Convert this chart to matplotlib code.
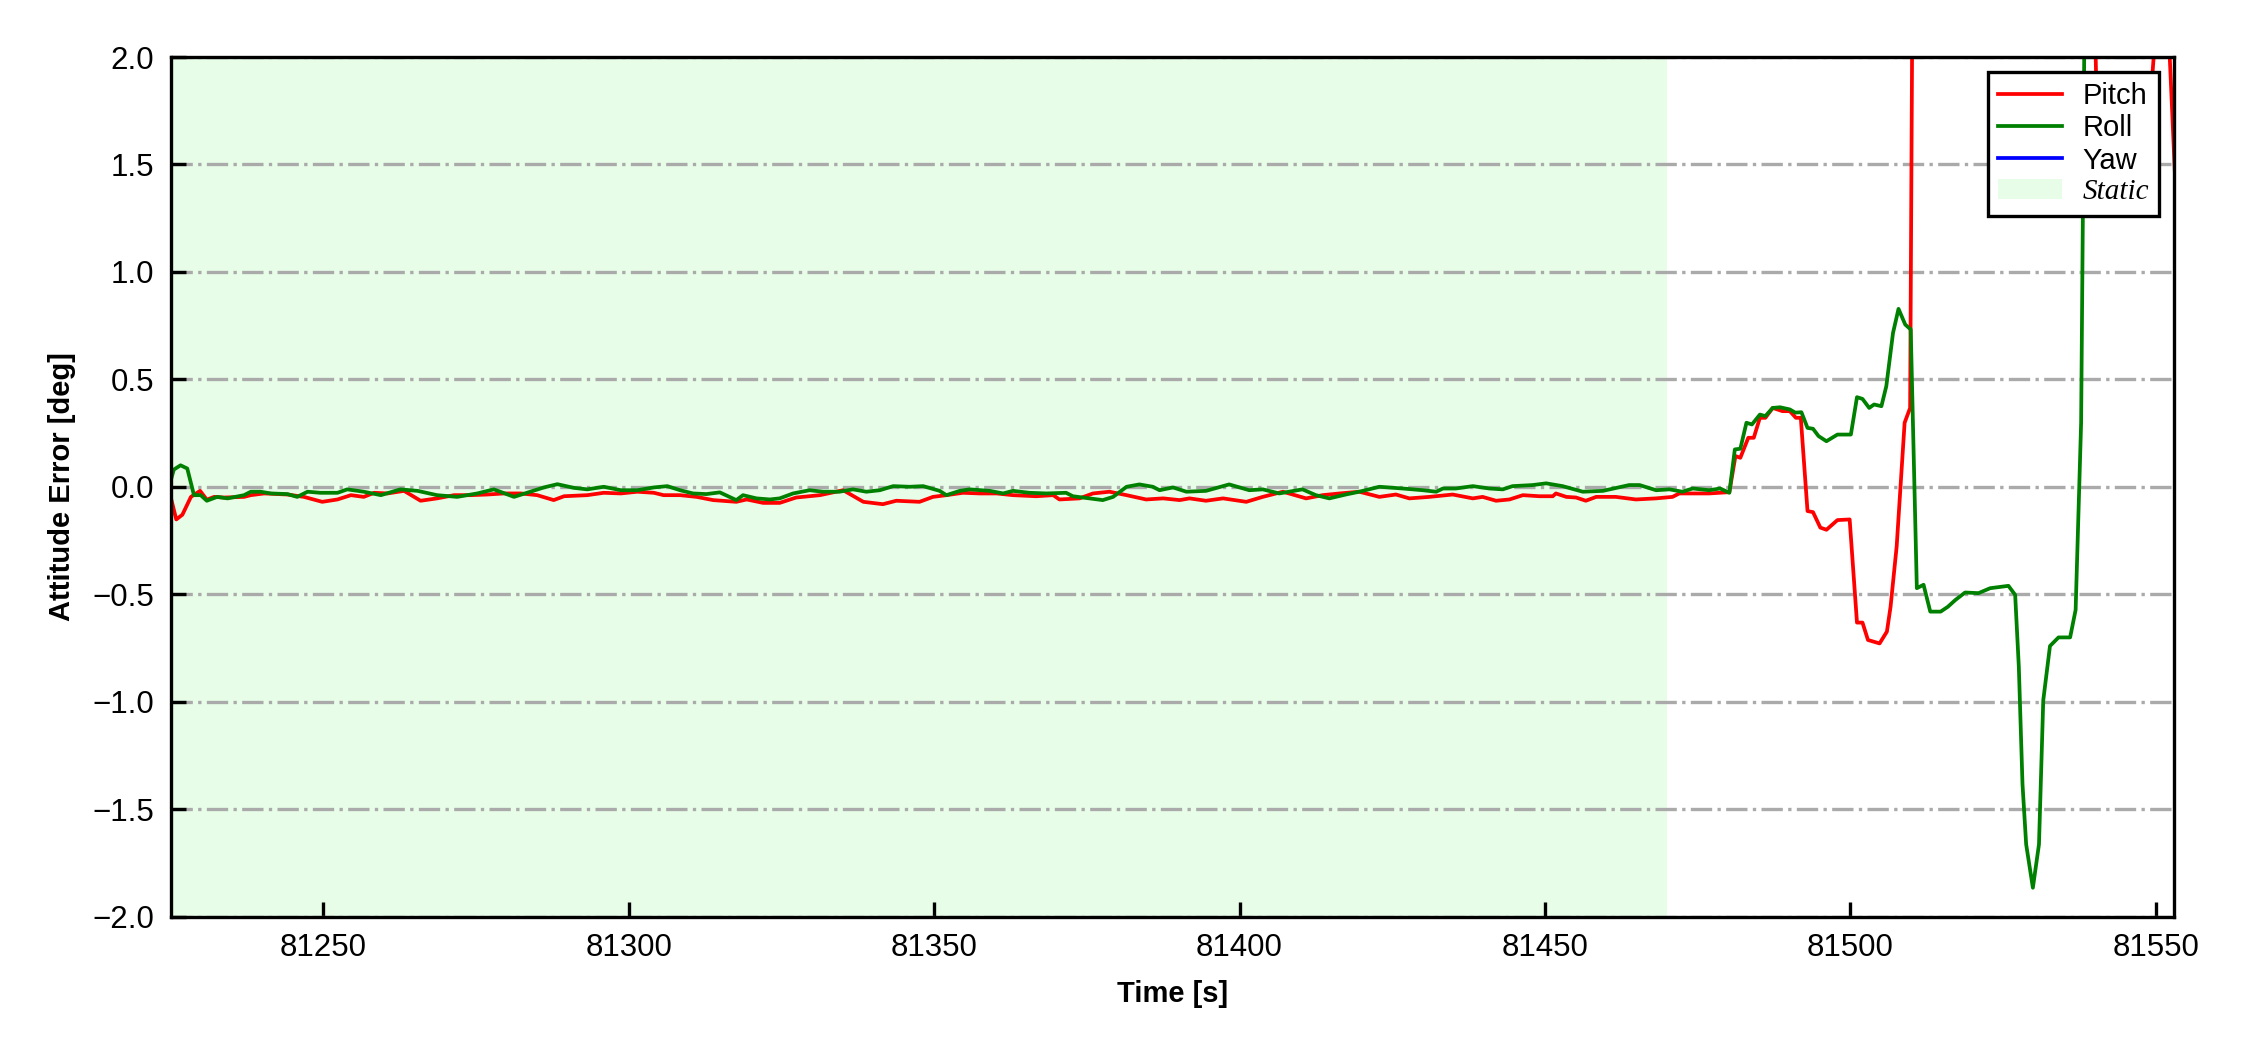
import matplotlib
matplotlib.use('Agg')
import matplotlib.pyplot as plt

plt.rcParams['font.family'] = ['Liberation Sans', 'DejaVu Sans']

# Tiempos y errores de pitch (lectura aproximada de la grafica)
t_pitch = [81225.0, 81225.9, 81226.9, 81228.3, 81229.8, 81230.9, 81232.1, 81233.7, 81237.0, 81238.1,
           81240.3, 81244.1, 81246.8, 81249.8, 81252.3, 81254.5, 81256.6, 81258.3, 81260.5, 81263.2,
           81265.9, 81268.6, 81271.4, 81274.1, 81276.8, 81279.6, 81282.3, 81285.0, 81287.7, 81289.4,
           81293.2, 81295.9, 81298.7, 81301.4, 81304.1, 81305.7, 81308.4, 81311.1, 81313.8, 81317.6,
           81319.3, 81322.0, 81324.7, 81327.4, 81331.3, 81335.1, 81338.4, 81341.6, 81343.8, 81347.6,
           81349.8, 81352.0, 81354.7, 81357.5, 81360.2, 81362.9, 81366.7, 81369.5, 81370.5, 81373.8,
           81376.0, 81378.7, 81381.5, 81384.7, 81387.5, 81390.2, 81391.8, 81394.5, 81397.3, 81401.1,
           81403.8, 81407.1, 81410.9, 81413.6, 81416.4, 81419.6, 81422.9, 81425.6, 81427.8, 81431.1,
           81434.9, 81438.2, 81439.8, 81442.0, 81444.2, 81446.4, 81449.1, 81451.3, 81451.8, 81453.5,
           81455.1, 81456.7, 81458.4, 81461.6, 81464.9, 81468.2, 81470.9, 81472.0, 81473.6, 81476.9,
           81480.2, 81481.2, 81482.0, 81483.3, 81484.2, 81485.2, 81486.1, 81487.3, 81488.9, 81490.1,
           81491.1, 81491.9, 81493.0, 81493.9, 81495.1, 81496.1, 81497.9, 81499.9, 81501.1, 81502.0,
           81502.9, 81504.8, 81506.0, 81506.6, 81507.6, 81508.9, 81509.8, 81510.6, 81520.0, 81530.0,
           81539.0, 81540.5, 81544.0, 81548.5, 81549.5, 81551.0, 81552.0, 81553.2]
pitch = [-0.050, -0.152, -0.130, -0.047, -0.019, -0.060, -0.047, -0.050, -0.047, -0.039,
         -0.031, -0.036, -0.047, -0.070, -0.059, -0.039, -0.047, -0.028, -0.031, -0.019,
         -0.065, -0.054, -0.039, -0.039, -0.036, -0.031, -0.031, -0.039, -0.062, -0.044,
         -0.039, -0.028, -0.031, -0.023, -0.028, -0.039, -0.039, -0.047, -0.062, -0.070,
         -0.059, -0.075, -0.075, -0.050, -0.039, -0.016, -0.070, -0.081, -0.065, -0.070,
         -0.047, -0.039, -0.028, -0.031, -0.031, -0.039, -0.044, -0.039, -0.059, -0.054,
         -0.031, -0.023, -0.039, -0.059, -0.054, -0.062, -0.054, -0.065, -0.054, -0.070,
         -0.047, -0.023, -0.054, -0.039, -0.031, -0.023, -0.047, -0.036, -0.054, -0.047,
         -0.036, -0.054, -0.047, -0.065, -0.059, -0.039, -0.044, -0.044, -0.031, -0.047,
         -0.050, -0.065, -0.047, -0.047, -0.059, -0.054, -0.047, -0.031, -0.031, -0.031,
         -0.025, 0.143, 0.135, 0.228, 0.228, 0.321, 0.321, 0.367, 0.352, 0.352,
         0.321, 0.321, -0.113, -0.118, -0.190, -0.200, -0.155, -0.152, -0.632, -0.632,
         -0.713, -0.729, -0.674, -0.558, -0.277, 0.298, 0.367, 4.5, 5.2, 4.8,
         3.5, 1.6, 1.55, 1.7, 1.93, 2.5, 2.2, 1.43]

# Tiempos y errores de roll
t_roll = [81225.0, 81225.5, 81226.6, 81227.7, 81228.8, 81229.9, 81230.9, 81232.6, 81234.3, 81237.0,
          81238.1, 81239.7, 81241.4, 81244.1, 81245.7, 81247.4, 81249.5, 81252.3, 81253.9, 81256.6,
          81259.4, 81262.6, 81265.4, 81268.6, 81271.9, 81275.2, 81277.9, 81281.2, 81283.9, 81286.1,
          81288.3, 81291.0, 81293.2, 81295.9, 81298.7, 81301.4, 81304.1, 81306.3, 81308.4, 81310.5,
          81312.7, 81314.9, 81317.6, 81318.7, 81320.9, 81323.1, 81324.7, 81326.9, 81329.6, 81331.8,
          81334.5, 81336.7, 81338.9, 81341.1, 81343.3, 81346.0, 81348.2, 81350.9, 81352.0, 81354.2,
          81355.8, 81359.1, 81361.3, 81362.9, 81365.6, 81368.4, 81371.6, 81372.7, 81375.4, 81377.6,
          81379.3, 81381.5, 81383.6, 81385.8, 81386.9, 81389.1, 81391.3, 81394.5, 81398.3, 81401.6,
          81403.8, 81406.5, 81410.3, 81412.5, 81414.7, 81417.4, 81419.6, 81422.9, 81426.7, 81430.0,
          81432.2, 81433.3, 81435.4, 81438.2, 81440.9, 81443.1, 81444.7, 81448.0, 81450.2, 81452.9,
          81456.2, 81459.5, 81463.8, 81465.5, 81468.2, 81470.4, 81472.5, 81474.2, 81476.9, 81478.7,
          81480.2, 81481.1, 81482.0, 81483.0, 81483.9, 81485.2, 81486.1, 81487.3, 81488.5, 81490.1,
          81491.0, 81492.0, 81493.0, 81493.9, 81494.8, 81496.1, 81497.9, 81500.1, 81501.1, 81502.0,
          81503.1, 81503.9, 81505.1, 81505.9, 81507.0, 81507.9, 81509.0, 81509.9, 81510.9, 81512.0,
          81513.1, 81514.8, 81516.0, 81517.2, 81518.8, 81521.0, 81522.9, 81525.9, 81527.0, 81527.6,
          81528.2, 81528.8, 81529.9, 81530.9, 81531.6, 81532.7, 81534.1, 81536.0, 81536.9, 81537.8,
          81538.6, 81545.0, 81553.5]
roll = [0.030, 0.080, 0.100, 0.085, -0.039, -0.039, -0.065, -0.047, -0.054, -0.039,
        -0.023, -0.023, -0.031, -0.034, -0.047, -0.023, -0.028, -0.028, -0.012, -0.023,
        -0.039, -0.012, -0.019, -0.039, -0.047, -0.031, -0.012, -0.047, -0.023, -0.003,
        0.012, -0.005, -0.012, 0.000, -0.016, -0.016, -0.003, 0.003, -0.016, -0.031,
        -0.034, -0.026, -0.062, -0.039, -0.054, -0.059, -0.054, -0.031, -0.016, -0.023,
        -0.023, -0.012, -0.023, -0.016, 0.003, 0.000, 0.003, -0.019, -0.039, -0.019,
        -0.012, -0.019, -0.031, -0.019, -0.028, -0.031, -0.028, -0.044, -0.054, -0.062,
        -0.047, 0.000, 0.011, 0.000, -0.016, -0.003, -0.023, -0.019, 0.011, -0.016,
        -0.012, -0.031, -0.012, -0.039, -0.054, -0.036, -0.023, 0.000, -0.008, -0.016,
        -0.023, -0.008, -0.008, 0.003, -0.008, -0.012, 0.003, 0.008, 0.016, 0.003,
        -0.023, -0.019, 0.008, 0.008, -0.016, -0.012, -0.023, -0.008, -0.016, -0.008,
        -0.028, 0.174, 0.177, 0.298, 0.290, 0.336, 0.329, 0.367, 0.370, 0.360,
        0.345, 0.347, 0.274, 0.270, 0.236, 0.212, 0.243, 0.243, 0.417, 0.409,
        0.367, 0.383, 0.375, 0.468, 0.716, 0.828, 0.755, 0.732, -0.472, -0.456,
        -0.581, -0.581, -0.558, -0.527, -0.492, -0.495, -0.472, -0.461, -0.503, -0.838,
        -1.383, -1.664, -1.866, -1.664, -0.994, -0.741, -0.701, -0.701, -0.573, 0.298,
        3.0, 3.5, 3.2]

# Yaw queda fuera de la escala mostrada
t_yaw = []
yaw = []

static_ini = 81225.0
static_fin = 81470.0

fig, ax = plt.subplots(figsize=(7.5, 3.5), dpi=300)
fig.subplots_adjust(left=0.0759, right=0.9662, top=0.9457, bottom=0.1271)

ax.axvspan(static_ini, static_fin, color='#e8fde8', lw=0, label='Static', zorder=0)
ax.plot(t_pitch, pitch, color='red', lw=0.9, label='Pitch')
ax.plot(t_roll, roll, color='green', lw=0.9, label='Roll')
ax.plot(t_yaw, yaw, color='blue', lw=0.9, label='Yaw')

ax.set_xlim(81225, 81553)
ax.set_ylim(-2.0, 2.0)
ax.set_yticks([-2.0, -1.5, -1.0, -0.5, 0.0, 0.5, 1.0, 1.5, 2.0])
ax.grid(axis='y', color='#aaaaaa', linestyle='-.', lw=0.8)
ax.set_axisbelow(True)

ax.tick_params(direction='in', length=3.5, width=0.8, labelsize=7.5, pad=4)
for s in ax.spines.values():
    s.set_linewidth(0.8)

ax.set_xlabel('Time [s]', fontsize=7, fontweight='bold')
ax.set_ylabel('Attitude Error [deg]', fontsize=7, fontweight='bold')

h, l = ax.get_legend_handles_labels()
orden = [1, 2, 3, 0]
leg = ax.legend([h[i] for i in orden], [l[i] for i in orden], loc='upper right', fontsize=7,
                fancybox=False, edgecolor='black', framealpha=1, borderpad=0.35,
                labelspacing=0.15, handletextpad=0.7, handlelength=2.2)
leg.get_frame().set_linewidth(0.8)
for txt in leg.get_texts():
    if txt.get_text() == 'Static':
        txt.set_fontfamily(['Liberation Serif', 'DejaVu Serif'])
        txt.set_fontstyle('italic')

plt.savefig('out.png', dpi=300)
